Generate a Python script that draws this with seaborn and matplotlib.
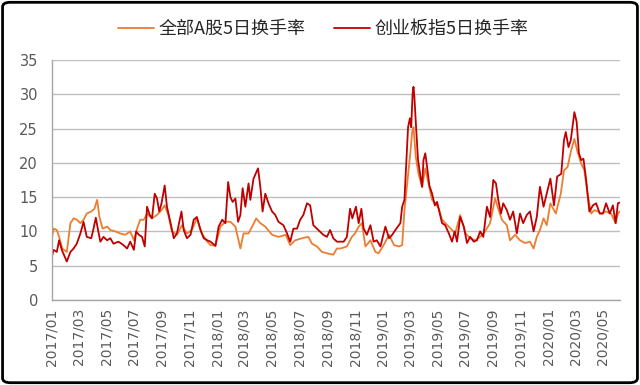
import matplotlib
matplotlib.use("Agg")
import matplotlib.pyplot as plt
import matplotlib.dates as mdates
from matplotlib.patches import FancyBboxPatch
import seaborn as sns
import pandas as pd

# ---------------- data ----------------
series_names = ["全部A股5日换手率", "创业板指5日换手率"]

a_dates = [
    "2017-01-01", "2017-01-05", "2017-01-12", "2017-01-17", "2017-01-24", "2017-02-03", "2017-02-11",
    "2017-02-18", "2017-02-25", "2017-03-05", "2017-03-12", "2017-03-19", "2017-03-29", "2017-04-05",
    "2017-04-11", "2017-04-16", "2017-04-23", "2017-05-03", "2017-05-10", "2017-05-21", "2017-06-01",
    "2017-06-12", "2017-06-23", "2017-07-01", "2017-07-08", "2017-07-15", "2017-07-23", "2017-07-30",
    "2017-08-10", "2017-08-21", "2017-08-31", "2017-09-07", "2017-09-15", "2017-09-23", "2017-10-04",
    "2017-10-15", "2017-10-26", "2017-11-06", "2017-11-17", "2017-11-28", "2017-12-10", "2017-12-17",
    "2017-12-28",
    "2018-01-08", "2018-01-19", "2018-01-30", "2018-02-10", "2018-02-21", "2018-02-28", "2018-03-11",
    "2018-03-19", "2018-03-28", "2018-04-06", "2018-04-17", "2018-05-02", "2018-05-16", "2018-06-01",
    "2018-06-11", "2018-06-22", "2018-07-07", "2018-07-21", "2018-07-29", "2018-08-09", "2018-08-20",
    "2018-08-31", "2018-09-14", "2018-09-22", "2018-09-30", "2018-10-14", "2018-10-25", "2018-11-01",
    "2018-11-09", "2018-11-16", "2018-11-24", "2018-12-05", "2018-12-16", "2018-12-23",
    "2019-01-03", "2019-01-15", "2019-01-26", "2019-02-06", "2019-02-13", "2019-02-18", "2019-02-28",
    "2019-03-03", "2019-03-07", "2019-03-10", "2019-03-15", "2019-03-21", "2019-03-29", "2019-04-05",
    "2019-04-13", "2019-04-20", "2019-04-27", "2019-05-05", "2019-05-12", "2019-05-19", "2019-05-27",
    "2019-06-03", "2019-06-10", "2019-06-21", "2019-07-03", "2019-07-13", "2019-07-24", "2019-08-04",
    "2019-08-15", "2019-08-26", "2019-09-06", "2019-09-13", "2019-09-21", "2019-10-02", "2019-10-09",
    "2019-10-20", "2019-10-31", "2019-11-11", "2019-11-22", "2019-11-30", "2019-12-07", "2019-12-14",
    "2019-12-22", "2019-12-29",
    "2020-01-06", "2020-01-18", "2020-01-29", "2020-02-05", "2020-02-13", "2020-02-20", "2020-02-28",
    "2020-03-06", "2020-03-14", "2020-03-21", "2020-03-28", "2020-04-05", "2020-04-12", "2020-04-20",
    "2020-04-27", "2020-05-08", "2020-05-19", "2020-05-29", "2020-06-03", "2020-06-07",
]
a_values = [
    9.0, 10.4, 10.2, 9.2, 7.5, 7.0, 11.2,
    11.9, 11.7, 11.2, 11.7, 12.6, 12.9, 13.3,
    14.6, 12.1, 10.4, 10.7, 10.2, 10.0, 9.7,
    9.5, 10.0, 8.7, 10.4, 11.7, 11.7, 12.6,
    11.9, 12.4, 13.1, 13.8, 12.4, 10.0, 9.5,
    10.9, 9.7, 10.2, 11.9, 9.7, 8.5, 8.0,
    7.9,
    10.7, 11.4, 11.4, 10.7, 7.5, 9.7, 9.7,
    10.7, 11.9, 11.2, 10.7, 9.5, 9.2, 9.5,
    8.0, 8.7, 9.0, 9.2, 8.2, 7.8, 7.0,
    6.8, 6.6, 7.5, 7.5, 7.8, 9.2, 9.7,
    10.7, 11.2, 7.8, 8.7, 7.0, 6.8,
    8.0, 9.5, 8.0, 7.8, 8.0, 13.1, 19.4,
    21.4, 24.5, 25.2, 20.9, 18.4, 16.5, 19.2,
    16.7, 14.6, 14.1, 13.3, 11.7, 11.2, 10.7,
    10.2, 9.7, 12.4, 9.7, 9.0, 8.7, 9.2,
    10.0, 11.2, 14.8, 13.3, 11.7, 10.9, 8.7,
    9.5, 8.7, 8.3, 8.5, 7.5, 9.2, 10.2,
    11.9, 10.9,
    14.1, 12.6, 15.5, 18.9, 19.4, 21.6, 23.5,
    21.6, 19.9, 18.9, 15.5, 12.6, 13.1, 12.9,
    12.6, 12.9, 12.6, 11.2, 12.6, 12.9,
]

cyb_dates = [
    "2017-01-01", "2017-01-05", "2017-01-12", "2017-01-17", "2017-01-23", "2017-02-03", "2017-02-11",
    "2017-02-18", "2017-02-25", "2017-03-05", "2017-03-12", "2017-03-19", "2017-03-29", "2017-04-03",
    "2017-04-08", "2017-04-13", "2017-04-18", "2017-04-25", "2017-05-03", "2017-05-10", "2017-05-17",
    "2017-05-28", "2017-06-08", "2017-06-16", "2017-06-23", "2017-07-01", "2017-07-06", "2017-07-12",
    "2017-07-19", "2017-07-25", "2017-07-30", "2017-08-05", "2017-08-10", "2017-08-16", "2017-08-21",
    "2017-08-26", "2017-08-31", "2017-09-07", "2017-09-12", "2017-09-20", "2017-09-27", "2017-10-04",
    "2017-10-14", "2017-10-19", "2017-10-26", "2017-11-03", "2017-11-10", "2017-11-17", "2017-11-25",
    "2017-12-02", "2017-12-10", "2017-12-17", "2017-12-28",
    "2018-01-04", "2018-01-12", "2018-01-19", "2018-01-25", "2018-01-30", "2018-02-04", "2018-02-10",
    "2018-02-16", "2018-02-21", "2018-02-26", "2018-03-04", "2018-03-11", "2018-03-15", "2018-03-22",
    "2018-04-01", "2018-04-06", "2018-04-11", "2018-04-17", "2018-04-24", "2018-05-02", "2018-05-09",
    "2018-05-16", "2018-05-27", "2018-06-04", "2018-06-11", "2018-06-18", "2018-06-26", "2018-07-03",
    "2018-07-10", "2018-07-18", "2018-07-25", "2018-08-01", "2018-08-12", "2018-08-23", "2018-08-31",
    "2018-09-07", "2018-09-14", "2018-09-22", "2018-10-07", "2018-10-14", "2018-10-21", "2018-10-26",
    "2018-11-03", "2018-11-09", "2018-11-15", "2018-11-20", "2018-11-27", "2018-12-05", "2018-12-12",
    "2018-12-19", "2018-12-27",
    "2019-01-07", "2019-01-15", "2019-01-22", "2019-01-29", "2019-02-09", "2019-02-13", "2019-02-18",
    "2019-02-26", "2019-03-02", "2019-03-05", "2019-03-08", "2019-03-10", "2019-03-12", "2019-03-15",
    "2019-03-20", "2019-03-25", "2019-03-29", "2019-04-01", "2019-04-05", "2019-04-09", "2019-04-14",
    "2019-04-20", "2019-04-26", "2019-05-01", "2019-05-06", "2019-05-12", "2019-05-19", "2019-05-27",
    "2019-06-03", "2019-06-09", "2019-06-14", "2019-06-21", "2019-06-29", "2019-07-06", "2019-07-13",
    "2019-07-21", "2019-07-28", "2019-08-04", "2019-08-11", "2019-08-19", "2019-08-26", "2019-09-02",
    "2019-09-08", "2019-09-13", "2019-09-19", "2019-09-24", "2019-10-02", "2019-10-09", "2019-10-16",
    "2019-10-24", "2019-10-31", "2019-11-07", "2019-11-15", "2019-11-22", "2019-11-30", "2019-12-07",
    "2019-12-14", "2019-12-22", "2019-12-29",
    "2020-01-06", "2020-01-14", "2020-01-21", "2020-01-30", "2020-02-05", "2020-02-09", "2020-02-15",
    "2020-02-20", "2020-02-28", "2020-03-04", "2020-03-09", "2020-03-14", "2020-03-19", "2020-03-25",
    "2020-04-01", "2020-04-09", "2020-04-16", "2020-04-24", "2020-05-01", "2020-05-08", "2020-05-16",
    "2020-05-23", "2020-05-29", "2020-06-03", "2020-06-07",
]
cyb_values = [
    6.3, 7.3, 7.0, 8.7, 7.3, 5.6, 7.0,
    7.5, 8.2, 9.7, 11.4, 9.2, 9.0, 10.4,
    12.0, 10.2, 8.5, 9.2, 8.7, 9.0, 8.2,
    8.5, 8.0, 7.5, 8.5, 7.3, 10.0, 9.5,
    9.2, 7.8, 13.6, 12.4, 11.9, 15.5, 14.8,
    12.9, 14.1, 16.7, 13.6, 11.2, 9.0, 9.7,
    12.9, 10.2, 9.0, 9.5, 11.7, 12.1, 10.2,
    9.0, 8.7, 8.5, 7.9,
    10.7, 11.7, 11.2, 17.2, 15.0, 14.3, 14.8,
    11.4, 12.4, 16.3, 13.6, 17.0, 14.6, 17.7,
    19.2, 16.5, 12.9, 15.5, 14.1, 12.9, 12.4,
    11.4, 10.9, 9.7, 8.5, 10.4, 10.4, 11.7,
    12.4, 14.1, 13.8, 10.9, 10.2, 9.5, 9.2,
    10.2, 9.0, 8.5, 8.5, 9.2, 13.3, 11.9,
    13.6, 11.2, 13.3, 10.4, 9.5, 10.9, 8.5,
    8.7, 7.8,
    10.7, 9.0, 9.5, 10.2, 11.2, 13.6, 14.6,
    25.2, 26.5, 25.2, 30.1, 31.1, 29.6, 26.0,
    20.4, 18.2, 16.5, 20.4, 21.4, 19.4, 16.7,
    15.5, 13.8, 14.3, 12.9, 11.2, 10.9, 9.7,
    8.5, 10.0, 8.5, 12.1, 10.7, 8.3, 9.2,
    8.5, 8.7, 10.0, 9.2, 13.6, 12.1, 17.5,
    17.0, 14.6, 12.6, 14.1, 13.1, 11.7, 12.9,
    9.7, 12.6, 11.2, 12.4, 12.9, 10.0, 12.1,
    16.5, 13.6, 15.5,
    17.7, 13.8, 18.0, 18.4, 23.3, 24.5, 22.3,
    23.3, 27.4, 26.0, 21.4, 20.4, 20.6, 17.5,
    12.9, 13.8, 14.1, 12.6, 12.6, 14.1, 12.6,
    13.8, 11.2, 14.1, 14.2,
]

x_start = "2017-01-01"
x_end = "2020-06-08"

# ---------------- plot ----------------
sns.set_style("white")
plt.rcParams["font.family"] = ["Noto Sans CJK SC", "DejaVu Sans"]

df_a = pd.DataFrame({"date": pd.to_datetime(a_dates), "value": a_values})
df_c = pd.DataFrame({"date": pd.to_datetime(cyb_dates), "value": cyb_values})

fig = plt.figure(figsize=(6.4, 3.85), dpi=100)
ax = fig.add_axes([0.081, 0.221, 0.888, 0.623])

sns.lineplot(data=df_a, x="date", y="value", color="#ED7D31", linewidth=1.3,
             ax=ax, label=series_names[0])
sns.lineplot(data=df_c, x="date", y="value", color="#C00000", linewidth=1.3,
             ax=ax, label=series_names[1])

ax.set_ylim(0, 35)
ax.set_yticks(range(0, 36, 5))
ax.set_xlim(pd.Timestamp(x_start), pd.Timestamp(x_end))
ax.xaxis.set_major_locator(mdates.MonthLocator(bymonth=[1, 3, 5, 7, 9, 11]))
ax.xaxis.set_major_formatter(mdates.DateFormatter("%Y/%m"))
ax.set_xlabel("")
ax.set_ylabel("")

ax.yaxis.grid(True, color="#BFBFBF", linewidth=1.0)
ax.xaxis.grid(False)
ax.set_axisbelow(True)
for s in ["top", "right"]:
    ax.spines[s].set_visible(False)
for s in ["left", "bottom"]:
    ax.spines[s].set_color("#A6A6A6")
    ax.spines[s].set_linewidth(1.0)

ax.tick_params(axis="x", direction="out", length=4, width=1, color="#A6A6A6",
               labelsize=10, labelcolor="#595959", rotation=90, pad=2)
ax.tick_params(axis="y", direction="out", length=5, width=1, color="#BFBFBF",
               labelsize=10.5, labelcolor="#595959", pad=5)
for lbl in ax.get_xticklabels() + ax.get_yticklabels():
    lbl.set_family("DejaVu Sans")

handles, labels = ax.get_legend_handles_labels()
ax.get_legend().remove()
fig.legend(handles, labels, loc="center", bbox_to_anchor=(0.505, 0.925), ncol=2,
           frameon=False, fontsize=13, handlelength=2.0, handletextpad=0.25,
           columnspacing=1.6)

border = FancyBboxPatch((0.004, 0.006), 0.992, 0.988,
                        boxstyle="round,pad=0,rounding_size=0.012",
                        transform=fig.transFigure, fill=False,
                        edgecolor="black", linewidth=2.0)
fig.patches.append(border)

fig.savefig("out.png", dpi=100)
